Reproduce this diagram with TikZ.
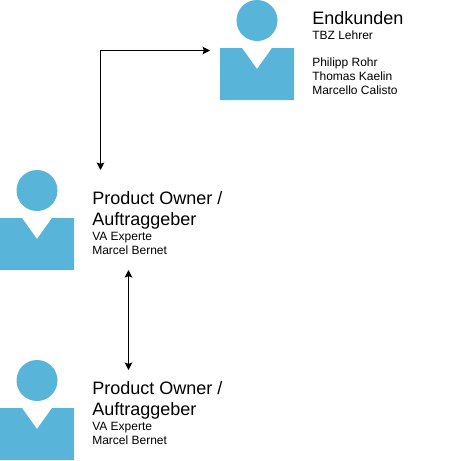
\documentclass[tikz,border=0pt]{standalone}
\usepackage{fontspec}
\usetikzlibrary{arrows.meta}
\setmainfont{Liberation Sans}
\definecolor{personblue}{HTML}{59B4D9}
\newcommand{\bigline}{\fontsize{13.5}{15.75}\selectfont}
\tikzset{
    personlabel/.style = {anchor = north west, align = left, inner sep = 0pt, font = \fontsize{9}{10.5}\selectfont},
    connector/.style = {line width = 0.75pt, {Stealth[length=5.6pt, width=5.6pt, inset=1pt]}-{Stealth[length=5.6pt, width=5.6pt, inset=1pt]}}
}
\begin{document}
\begin{tikzpicture}[x = 0.75pt, y = -0.75pt]
    \useasboundingbox (0, 0) rectangle (461, 461);

    \foreach \i/\j in {220/0, 0/170, 0/360} {
        \fill[personblue] (\i+37, \j+20.5) circle (20.5);
        \fill[personblue] (\i, \j+48) -- (\i+22, \j+48) -- (\i+37, \j+69) -- (\i+52, \j+48) -- (\i+74, \j+48) -- (\i+74, \j+100) -- (\i, \j+100) -- cycle;
    }

    \node[personlabel] (endkunden) at (312, 11) {\bigline Endkunden\\[1.1pt]TBZ Lehrer\\[9.75pt]Philipp Rohr\\Thomas Kaelin\\Marcello Calisto};
    \node[personlabel] (ownerA) at (92, 191) {\bigline Product Owner /\\[5.25pt]\bigline Auftraggeber\\[0.75pt]VA Experte\\Marcel Bernet};
    \node[personlabel] (ownerB) at (92, 381) {\bigline Product Owner /\\[5.25pt]\bigline Auftraggeber\\[0.75pt]VA Experte\\Marcel Bernet};

    \coordinate (toEndkunden) at (210, 50.5);
    \coordinate (toOwnerA) at (100.5, 170);
    \coordinate (ownerAfoot) at (128.5, 270);
    \coordinate (ownerBhead) at (128.5, 370);

    \draw[connector] (toOwnerA) |- (toEndkunden);
    \draw[connector] (ownerAfoot) -- (ownerBhead);
\end{tikzpicture}
\end{document}
